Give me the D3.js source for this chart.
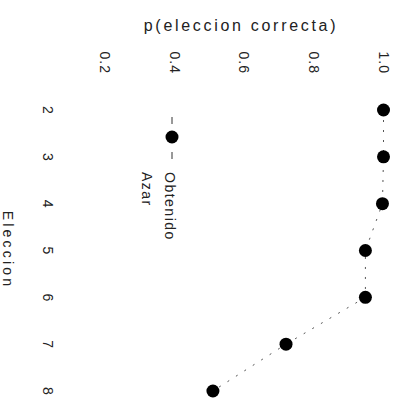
<!doctype html>
<html>
<head>
    <meta charset="UTF-8">
    <title>p(eleccion correcta)</title>
    <script src="https://d3js.org/d3.v7.min.js"></script>
    <style>
        body { margin: 0; background: #fff; }
        text { font-family: "Liberation Sans", Arial, sans-serif; fill: #222; }
    </style>
</head>
<body>
    <script>
        // datos
        var elecciones = [2, 3, 4, 5, 6, 7, 8];
        var obtenido = [1.0, 1.0, 0.997, 0.948, 0.948, 0.72, 0.51];
        var pTicks = [0.2, 0.4, 0.6, 0.8, 1.0];
        var series = ["Obtenido", "Azar"];

        var w = 405;
        var h = 398;

        var svg = d3.select("body")
                    .append("svg")
                    .attr("width", w)
                    .attr("height", h);

        // the chart is drawn upright and then turned 90 degrees clockwise
        var g = svg.append("g")
                   .attr("transform", "translate(" + w + ",0) rotate(90)");

        var x = d3.scaleLinear().domain([2, 8]).range([110, 391]);
        var y = d3.scaleLinear().domain([0.2, 1.0]).range([300, 21.5]);

        var xAxis = d3.axisBottom(x)
                      .tickValues(elecciones)
                      .tickFormat(d3.format("d"))
                      .tickSize(0)
                      .tickPadding(0);
        var gx = g.append("g")
                  .attr("transform", "translate(0,352)")
                  .call(xAxis);

        var yAxis = d3.axisLeft(y)
                      .tickValues(pTicks)
                      .tickFormat(d3.format(".1f"))
                      .tickSize(0)
                      .tickPadding(0);
        var gy = g.append("g")
                  .attr("transform", "translate(74,0)")
                  .call(yAxis);

        [gx, gy].forEach(function(a){
            a.select(".domain").remove();
            a.selectAll("text")
             .attr("fill", "#222")
             .style("font-size", "14px")
             .style("letter-spacing", "1px");
        });

        // labels
        g.append("text")
         .attr("transform", "translate(31,164) rotate(-90)")
         .attr("text-anchor", "middle")
         .style("font-size", "16px")
         .style("letter-spacing", "2.7px")
         .text("p(eleccion correcta)");

        g.append("text")
         .attr("x", 250)
         .attr("y", 402)
         .attr("text-anchor", "middle")
         .style("font-size", "14px")
         .style("letter-spacing", "3.2px")
         .text("Eleccion");

        // line and points
        var line = d3.line()
                     .x(function(d, i){ return x(elecciones[i]); })
                     .y(function(d){ return y(d); });

        g.append("path")
         .datum(obtenido)
         .attr("d", line)
         .attr("fill", "none")
         .attr("stroke", "#555")
         .attr("stroke-width", 1)
         .attr("stroke-dasharray", "2,8");

        g.selectAll("circle.pt")
         .data(obtenido)
         .enter()
         .append("circle")
         .attr("class", "pt")
         .attr("cx", function(d, i){ return x(elecciones[i]); })
         .attr("cy", function(d){ return y(d); })
         .attr("r", 6.5)
         .attr("fill", "#000");

        // legend
        var lg = g.append("g").attr("transform", "translate(117,233)");
        lg.append("line")
          .attr("x1", 0).attr("x2", 42)
          .attr("y1", 0).attr("y2", 0)
          .attr("stroke", "#333")
          .attr("stroke-width", 1)
          .attr("stroke-dasharray", "7,28,7");
        lg.append("circle")
          .attr("cx", 20).attr("cy", 0)
          .attr("r", 6.5)
          .attr("fill", "#000");
        lg.selectAll("text")
          .data(series)
          .enter()
          .append("text")
          .attr("x", 55)
          .attr("y", function(d, i){ return 7 + i * 23; })
          .style("font-size", "14px")
          .style("letter-spacing", "1.5px")
          .text(function(d){ return d; });
    </script>
</body>
</html>
